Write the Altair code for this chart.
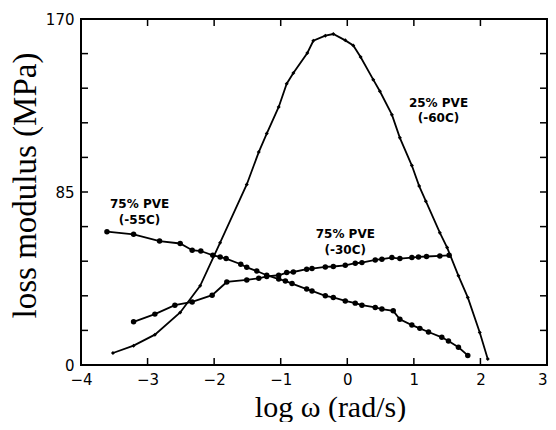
import altair as alt
import pandas as pd

# 25% PVE (-60C)
x_25 = [-3.52, -3.21, -2.89, -2.51, -2.21, -1.91, -1.51, -1.33, -1.21, -1.03, -0.91, -0.81,
        -0.60, -0.51, -0.33, -0.21, -0.03, 0.09, 0.20, 0.39, 0.49, 0.67, 0.79, 0.97,
        1.08, 1.18, 1.39, 1.50, 1.67, 1.81, 1.99, 2.11]
y_25 = [5.9, 9.5, 14.9, 25.8, 38.9, 60.1, 88.7, 104.6, 113.7, 126.8, 138.2, 143.5,
        153.3, 159.3, 161.8, 162.6, 159.5, 157.0, 151.3, 140.2, 134.5, 123.0, 111.6, 98.0,
        87.9, 80.5, 65.0, 57.7, 43.8, 33.2, 16.0, 2.9]

# 75% PVE (-55C)
x_55 = [-3.61, -3.21, -2.82, -2.51, -2.33, -2.20, -2.02, -1.91, -1.82, -1.60, -1.51, -1.36,
        -1.21, -1.03, -0.93, -0.83, -0.61, -0.53, -0.33, -0.21, -0.03, 0.12, 0.22, 0.42,
        0.52, 0.69, 0.79, 0.97, 1.09, 1.22, 1.42, 1.52, 1.67, 1.81]
y_55 = [65.5, 64.2, 60.9, 59.7, 56.4, 56.0, 53.9, 53.1, 52.3, 49.5, 48.0, 46.2,
        44.1, 42.2, 41.3, 40.0, 37.3, 36.4, 34.0, 33.2, 31.5, 30.4, 29.4, 28.3,
        27.5, 26.6, 22.5, 19.6, 18.0, 16.2, 13.6, 11.8, 8.7, 4.7]

# 75% PVE (-30C)
x_30 = [-3.21, -2.89, -2.59, -2.33, -2.03, -1.81, -1.51, -1.33, -1.21, -1.03, -0.91, -0.81,
        -0.61, -0.53, -0.33, -0.21, -0.03, 0.12, 0.22, 0.42, 0.52, 0.67, 0.79, 0.97,
        1.07, 1.19, 1.39, 1.53]
y_30 = [21.2, 25.0, 29.4, 31.0, 34.3, 40.8, 41.8, 42.6, 43.5, 44.1, 45.4, 45.7,
        47.1, 47.4, 48.2, 48.4, 49.0, 50.0, 50.3, 51.6, 52.0, 52.8, 52.3, 52.8,
        53.1, 53.3, 53.6, 53.9]

# annotations
label_text = ["75% PVE", "(-55C)", "25% PVE", "(-60C)", "75% PVE", "(-30C)"]
label_x = [-3.12, -3.12, 1.37, 1.37, -0.03, -0.03]
label_y = [79.0, 71.0, 128.5, 121.2, 64.4, 56.4]

# axis ticks
x_labels = [-4, -3, -2, -1, 0, 1, 2, 3]
y_labels = [0, 85, 170]
x_minor = [-3, -2, -1, 0, 1, 2]
y_minor = [17, 34, 51, 68, 85, 102, 119, 136, 153]

W, H = 466, 346
TL = 7

rows = []
for name, xs, ys in [("25", x_25, y_25), ("55", x_55, y_55), ("30", x_30, y_30)]:
    for i, (a, b) in enumerate(zip(xs, ys)):
        rows.append({"x": a, "y": b, "series": name, "order": i})
df = pd.DataFrame(rows)

xscale = alt.Scale(domain=[-4, 3], nice=False, zero=False)
yscale = alt.Scale(domain=[0, 170], nice=False, zero=False)

xaxis = alt.Axis(values=x_labels, title="log ω (rad/s)", ticks=False, domain=False, grid=False,
                 labelFont="DejaVu Sans", labelFontSize=15, labelColor="black", labelPadding=7,
                 labelAlign={"condition": {"test": "datum.value == 3", "value": "right"},
                             "value": "center"},
                 titleFont="Liberation Serif", titleFontSize=30, titleFontWeight="normal",
                 titleColor="black", titleX=249, titleY=51, titleBaseline="alphabetic",
                 titleAlign="center", labelFlush=False)
yaxis = alt.Axis(values=y_labels, title="loss modulus (MPa)", ticks=False, domain=False, grid=False,
                 labelFont="DejaVu Sans", labelFontSize=15, labelColor="black", labelPadding=7,
                 titleFont="Liberation Serif", titleFontSize=33, titleFontWeight="normal",
                 titleColor="black", titleX=-56, titleY=166, titleAngle=-90,
                 titleBaseline="middle", titleAlign="center", labelFlush=False)

X = alt.X("x:Q", scale=xscale, axis=xaxis)
Y = alt.Y("y:Q", scale=yscale, axis=yaxis)

base = alt.Chart(df)
lines = base.mark_line(color="black", strokeWidth=1.8).encode(
    x=X, y=Y, detail="series:N", order="order:Q")
circles = base.transform_filter(alt.datum.series != "25").mark_circle(
    color="black", size=30, opacity=1).encode(x=X, y=Y)
diamonds = base.transform_filter(alt.datum.series == "25").mark_point(
    shape="diamond", filled=True, color="black", size=16, opacity=1).encode(x=X, y=Y)

lab_df = pd.DataFrame({"x": label_x, "y": label_y, "t": label_text})
labels = alt.Chart(lab_df).mark_text(
    font="DejaVu Sans", fontSize=12, fontWeight="bold", color="black",
    align="center", baseline="middle").encode(x=X, y=Y, text="t:N")

xt = pd.DataFrame({"x": x_minor})
yt = pd.DataFrame({"y": y_minor})
tick_bottom = alt.Chart(xt).mark_tick(color="black", thickness=1.5, size=TL,
                                      orient="vertical", opacity=1).encode(
    x=X, y=alt.value(H - TL / 2))
tick_top = alt.Chart(xt).mark_tick(color="black", thickness=1.5, size=TL,
                                   orient="vertical", opacity=1).encode(
    x=X, y=alt.value(TL / 2))
tick_left = alt.Chart(yt).mark_tick(color="black", thickness=1.5, size=TL,
                                    orient="horizontal", opacity=1).encode(
    y=Y, x=alt.value(TL / 2))
tick_right = alt.Chart(yt).mark_tick(color="black", thickness=1.5, size=TL,
                                     orient="horizontal", opacity=1).encode(
    y=Y, x=alt.value(W - TL / 2))

chart = alt.layer(lines, circles, diamonds, labels,
                  tick_bottom, tick_top, tick_left, tick_right).properties(
    width=W, height=H,
    padding={"left": 73, "top": 11, "right": 1, "bottom": 57},
    autosize=alt.AutoSizeParams(type="none"),
    background="white",
).configure_view(stroke="black", strokeWidth=2)

chart.save("out.html", embed_options={"renderer": "svg", "actions": False})
